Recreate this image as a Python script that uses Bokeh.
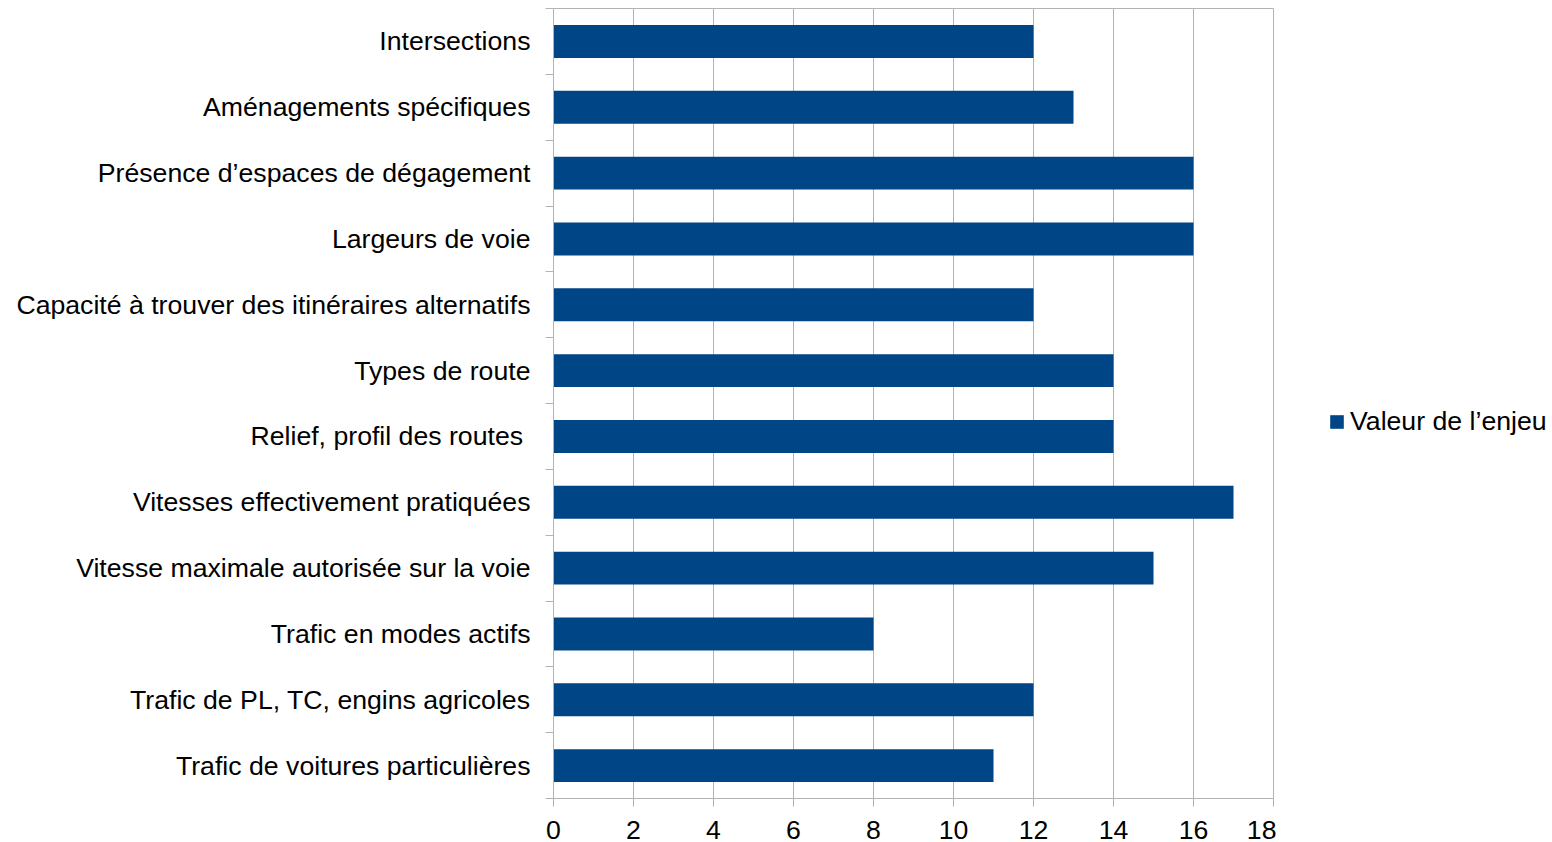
from bokeh.plotting import figure
from bokeh.layouts import row
from bokeh.models import ColumnDataSource, FixedTicker, Range1d, Legend, LegendItem
from bokeh.embed import file_html
from bokeh.resources import INLINE

categories = [
    "Trafic de voitures particulières",
    "Trafic de PL, TC, engins agricoles",
    "Trafic en modes actifs",
    "Vitesse maximale autorisée sur la voie",
    "Vitesses effectivement pratiquées",
    "Relief, profil des routes ",
    "Types de route",
    "Capacité à trouver des itinéraires alternatifs",
    "Largeurs de voie",
    "Présence d\u2019espaces de dégagement",
    "Aménagements spécifiques",
    "Intersections",
]
values = [11, 12, 8, 15, 17, 14, 14, 12, 16, 16, 13, 12]
x_ticks = [0, 2, 4, 6, 8, 10, 12, 14, 16, 18]
series_name = "Valeur de l\u2019enjeu"

n = len(categories)
pos = [i + 0.5 for i in range(n)]
src = ColumnDataSource(dict(y=pos, v=values, name=categories))

FONT = "Liberation Sans"
FS = "26.67px"
GRID = "#b3b3b3"
BAR = "#004586"

W, H = 1552, 842
W1 = 1276
p1 = figure(width=W1, height=H, output_backend="svg", toolbar_location=None,
            x_range=Range1d(0, 18), y_range=Range1d(0, n),
            min_border_left=553, min_border_right=W1 - 1273, min_border_top=8,
            min_border_bottom=H - 798)
p1.outline_line_color = GRID
p1.background_fill_color = "white"
p1.border_fill_color = "white"

r = p1.hbar(y="y", right="v", left=0, height=0.5, source=src, color=BAR, line_color=None)

# x axis
p1.xaxis.ticker = FixedTicker(ticks=x_ticks)
p1.xaxis.axis_line_color = GRID
p1.xaxis.major_tick_line_color = GRID
p1.xaxis.major_tick_out = 8
p1.xaxis.major_tick_in = 0
p1.xaxis.minor_tick_line_color = None
p1.xaxis.major_label_text_font = FONT
p1.xaxis.major_label_text_font_size = FS
p1.xaxis.major_label_text_color = "black"
p1.xaxis.major_label_standoff = 14

# y axis
p1.yaxis.ticker = FixedTicker(ticks=pos, minor_ticks=list(range(n + 1)))
p1.yaxis.major_label_overrides = {pv: c for pv, c in zip(pos, categories)}
p1.yaxis.axis_line_color = GRID
p1.yaxis.major_tick_line_color = None
p1.yaxis.major_tick_out = 0
p1.yaxis.major_tick_in = 0
p1.yaxis.minor_tick_line_color = GRID
p1.yaxis.minor_tick_out = 8
p1.yaxis.minor_tick_in = 0
p1.yaxis.major_label_text_font = FONT
p1.yaxis.major_label_text_font_size = FS
p1.yaxis.major_label_text_color = "black"
p1.yaxis.major_label_standoff = 15

p1.xgrid.grid_line_color = GRID
p1.ygrid.grid_line_color = None

# legend panel (same series; its bars fall outside this panel's range)
p2 = figure(width=W - W1, height=H, output_backend="svg", toolbar_location=None,
            x_range=Range1d(-2, -1), y_range=Range1d(0, n),
            x_axis_location=None, y_axis_location=None,
            min_border_left=0, min_border_right=0, min_border_top=0, min_border_bottom=0)
p2.outline_line_color = None
p2.grid.visible = False
p2.background_fill_color = "white"
p2.border_fill_color = "white"
r2 = p2.hbar(y="y", right="v", left=0, height=0.5, source=src, color=BAR, line_color=None)

legend = Legend(items=[LegendItem(label=series_name, renderers=[r2])],
                location=(52, 361), padding=0, margin=0,
                border_line_color=None, background_fill_alpha=0,
                glyph_width=17, glyph_height=17, label_standoff=5,
                label_text_font=FONT, label_text_font_size=FS,
                label_text_color="black", label_height=30)
p2.add_layout(legend, "center")

layout = row(p1, p2, spacing=0)
open("out.html", "w").write(file_html(layout, INLINE))
